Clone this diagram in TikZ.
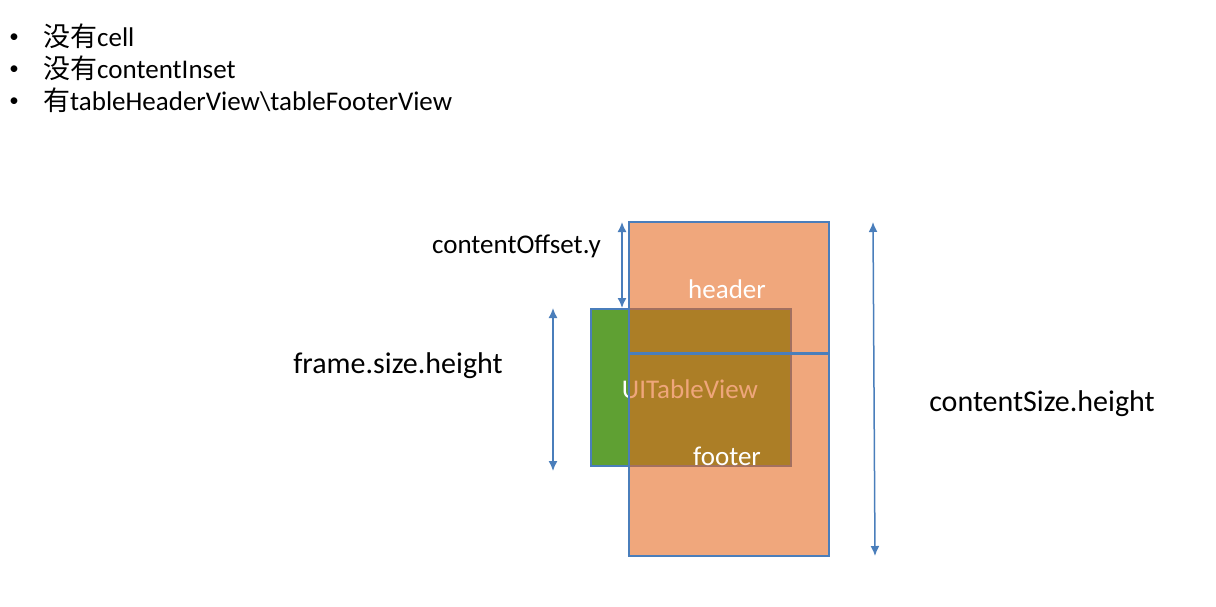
\documentclass[tikz,border=0pt]{standalone}
\usepackage{fontspec}
\setmainfont{Carlito}
\newfontfamily\cjk{Noto Sans CJK SC}
\usetikzlibrary{arrows.meta}
\definecolor{bluel}{RGB}{74,126,187}
\definecolor{greenf}{RGB}{95,160,51}
\definecolor{orangef}{RGB}{229,103,29}
\tikzset{
  lbl/.style={font=\fontsize{30}{34}\selectfont, text=black, inner sep=0pt},
  inlbl/.style={font=\fontsize{27}{31}\selectfont, text=white, inner sep=0pt},
  bul/.style={font=\fontsize{27}{31}\selectfont, anchor=west, inner sep=0pt},
  dotb/.style={font=\fontsize{19}{23}\selectfont, inner sep=0pt},
  dimarrow/.style={draw=bluel, line width=1.5pt, {Latex[length=10pt,width=9pt]}-{Latex[length=10pt,width=9pt]}},
  boxline/.style={draw=bluel, line width=2pt},
}
\begin{document}
\begin{tikzpicture}[x=1pt,y=-1pt]
\useasboundingbox (0,0) rectangle (1216,606);
% bullets
\node[dotb] (d1) at (14,38) {•};
\node[dotb] (d2) at (14,70) {•};
\node[dotb] (d3) at (14,102) {•};
\node[bul] (b1) at (43,36) {{\cjk 没有}cell};
\node[bul] (b2) at (43,68) {{\cjk 没有}contentInset};
\node[bul] (b3) at (43,100) {{\cjk 有}tableHeaderView\textbackslash tableFooterView};
% green frame
\draw[boxline, fill=greenf] (591,309) rectangle (791,466);
\node[inlbl] (tv) at (690,389) {UITableView};
% orange content
\fill[orangef, fill opacity=0.58] (629,222) rectangle (829,556);
\draw[boxline] (629,222) rectangle (829,556);
\draw[draw=bluel, line width=3pt] (629,353) -- (829,353);
\node[inlbl] (hd) at (727,289) {header};
\node[inlbl] (ft) at (727,456) {footer};
% arrows
\coordinate (oT) at (622,222);
\coordinate (oB) at (622,308);
\coordinate (fT) at (553,308);
\coordinate (fB) at (553,471);
\coordinate (sT) at (873,222);
\coordinate (sB) at (875,556);
\draw[dimarrow] (oT) -- (oB);
\draw[dimarrow] (fT) -- (fB);
\draw[dimarrow] (sT) -- (sB);
\node[lbl, font=\fontsize{27}{31}\selectfont, anchor=east] (lo) at (601,246) {contentOffset.y};
\node[lbl] (lf) at (398,366) {frame.size.height};
\node[lbl] (ls) at (1042,404) {contentSize.height};
\end{tikzpicture}
\end{document}
